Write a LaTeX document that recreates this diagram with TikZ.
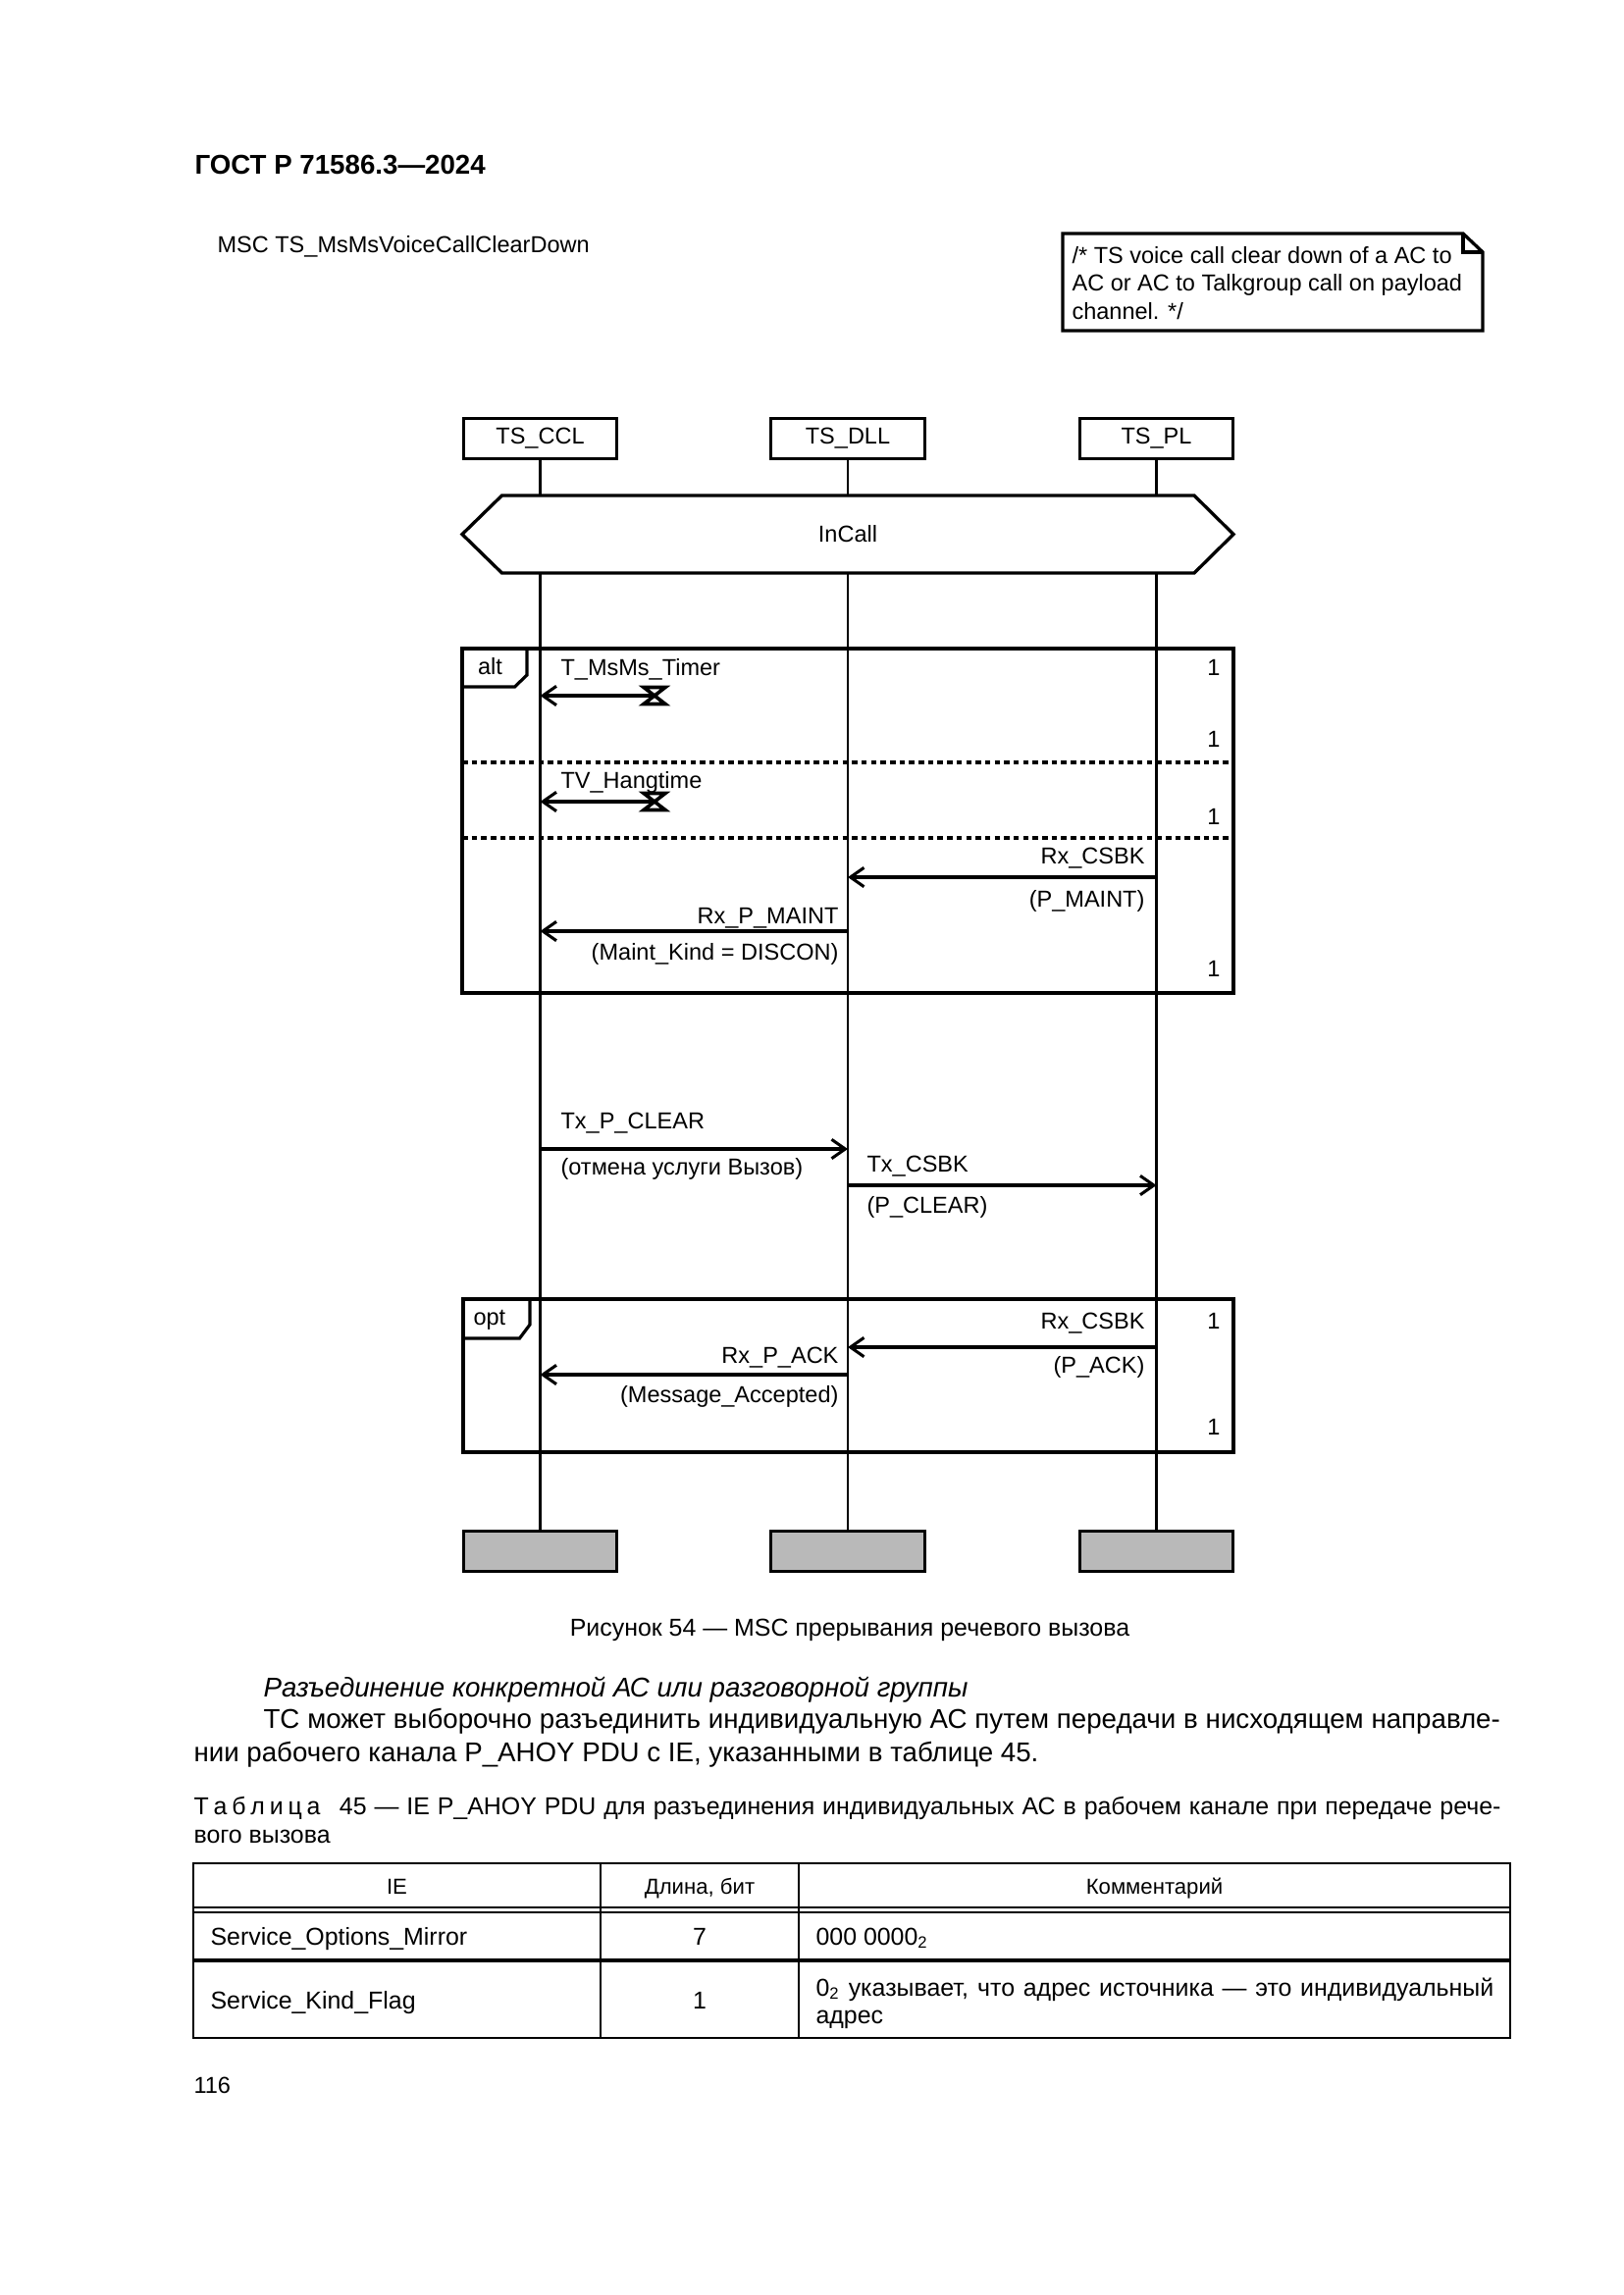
\documentclass[tikz,border=0pt]{standalone}
\usepackage{fontspec}
\setmainfont{Liberation Sans}
\usepackage{tikz}
\usetikzlibrary{arrows.meta}
\definecolor{endgray}{RGB}{185,185,185}
\tikzstyle{instance} = [rectangle, draw=black, line width=1.1pt, minimum width=19.9mm, minimum height=5.25mm, inner sep=0pt, font=\fontsize{8.5pt}{10pt}\selectfont]
\tikzstyle{instend} = [rectangle, draw=black, line width=1.1pt, fill=endgray, minimum width=19.9mm, minimum height=5.25mm, inner sep=0pt]
\tikzstyle{lifeline} = [line width=0.85pt]
\tikzstyle{frame} = [line width=1.15pt]
\tikzstyle{cond} = [line width=1.2pt, fill=white]
\tikzstyle{sep} = [line width=1.1pt, dash pattern=on 2pt off 1.5pt]
\tikzstyle{msg} = [line width=1.1pt, -{Straight Barb[length=5pt,width=7pt]}]
\tikzstyle{timer} = [line width=1.3pt, line join=miter]
\tikzstyle{note} = [line width=1.2pt, line join=miter]
\tikzstyle{lbl} = [inner sep=0pt, font=\fontsize{8.5pt}{10pt}\selectfont]
\tikzstyle{txt} = [inner sep=0pt, font=\fontsize{10pt}{12pt}\selectfont]
\tikzstyle{captxt} = [inner sep=0pt, font=\fontsize{9pt}{11pt}\selectfont]
\tikzstyle{cell} = [inner sep=0pt, font=\fontsize{9pt}{10pt}\selectfont]
\tikzstyle{headcell} = [inner sep=0pt, font=\fontsize{8pt}{10pt}\selectfont]

\begin{document}
\begin{tikzpicture}[x=0.12697mm, y=-0.12697mm]
	\path[fill=white, use as bounding box] (0,0) rectangle (1654,2339);

	% page head
	\node(gost) [txt, anchor=base west, font=\fontsize{10pt}{12pt}\selectfont\bfseries] at (198,178) {ГОСТ Р 71586.3—2024};
	\node(mscname) [lbl, anchor=base west] at (221,257) {MSC TS\_MsMsVoiceCallClearDown};

	% comment
	\draw[note] (1083,238) -- (1491,238) -- (1511,257) -- (1511,337) -- (1083,337) -- cycle;
	\draw[note] (1491,238) -- (1491,257) -- (1511,257);
	\node(note1) [lbl, anchor=base west] at (1092,268) {/* TS voice call clear down of a AC to};
	\node(note2) [lbl, anchor=base west] at (1092,296.5) {AC or AC to Talkgroup call on payload};
	\node(note3) [lbl, anchor=base west] at (1092,325) {channel. */};

	% instances
	\node(ccl) [instance] at (550.5,447) {TS\_CCL};
	\node(dll) [instance] at (864,447) {TS\_DLL};
	\node(pl) [instance] at (1178.5,447) {TS\_PL};
	\node(cclend) [instend] at (550.5,1581) {};
	\node(dllend) [instend] at (864,1581) {};
	\node(plend) [instend] at (1178.5,1581) {};

	\draw[lifeline] (ccl) -- (cclend);
	\draw[lifeline] (dll) -- (dllend);
	\draw[lifeline] (pl) -- (plend);

	% condition
	\draw[cond] (471,544.5) -- (511.5,505) -- (1217,505) -- (1257,544.5) -- (1217,584) -- (511.5,584) -- cycle;
	\node(incall) [lbl] at (864,544.5) {InCall};

	% alt
	\draw[frame] (471,661) rectangle (1257,1012);
	\draw[frame] (471,700) -- (524.5,700) -- (537,688) -- (537,661);
	\node(alt) [lbl, anchor=base west] at (486.5,687) {alt};
	\draw[sep] (471,777) -- (1257,777);
	\draw[sep] (471,854) -- (1257,854);
	\node(one1) [lbl, anchor=base] at (1237,688) {1};
	\node(one2) [lbl, anchor=base] at (1237,761) {1};
	\node(one3) [lbl, anchor=base] at (1237,840) {1};
	\node(one4) [lbl, anchor=base] at (1237,995) {1};

	\coordinate (tm1) at (667,709);
	\coordinate (tm2) at (667,817);
	\coordinate (t1) at (ccl |- tm1);
	\coordinate (t2) at (ccl |- tm2);
	\draw[timer] (tm1) ++(-11,-8.5) -- ++(22,0) -- ++(-22,17) -- ++(22,0) -- cycle;
	\draw[timer] (tm2) ++(-11,-8.5) -- ++(22,0) -- ++(-22,17) -- ++(22,0) -- cycle;
	\draw[msg] (tm1) -- (t1);
	\draw[msg] (tm2) -- (t2);
	\node(timer1) [lbl, anchor=base west] at (571,688) {T\_MsMs\_Timer};
	\node(timer2) [lbl, anchor=base west] at (571,803) {TV\_Hangtime};

	\draw[msg] (pl |- 0,894) -- (dll |- 0,894);
	\node(rxcsbk1) [lbl, anchor=base east] at (1167,880) {Rx\_CSBK};
	\node(pmaint) [lbl, anchor=base east] at (1167,924) {(P\_MAINT)};
	\draw[msg] (dll |- 0,949) -- (ccl |- 0,949);
	\node(rxpmaint) [lbl, anchor=base east] at (855,941) {Rx\_P\_MAINT};
	\node(discon) [lbl, anchor=base east] at (855,978) {(Maint\_Kind = DISCON)};

	% clear
	\draw[msg] (ccl |- 0,1171) -- (dll |- 0,1171);
	\node(txpclear) [lbl, anchor=base west] at (571,1150) {Tx\_P\_CLEAR};
	\node(otmena) [lbl, anchor=base west] at (571,1197) {(отмена услуги Вызов)};
	\draw[msg] (dll |- 0,1208) -- (pl |- 0,1208);
	\node(txcsbk) [lbl, anchor=base west] at (883,1194) {Tx\_CSBK};
	\node(pclear) [lbl, anchor=base west] at (883,1236) {(P\_CLEAR)};

	% opt
	\draw[frame] (472,1324) rectangle (1257,1480);
	\draw[frame] (472,1364) -- (529.5,1364) -- (540,1350) -- (540,1324);
	\node(opt) [lbl, anchor=base west] at (482,1350) {opt};
	\node(one5) [lbl, anchor=base] at (1237,1354) {1};
	\node(one6) [lbl, anchor=base] at (1237,1462) {1};
	\draw[msg] (pl |- 0,1373) -- (dll |- 0,1373);
	\node(rxcsbk2) [lbl, anchor=base east] at (1167,1354) {Rx\_CSBK};
	\node(pack) [lbl, anchor=base east] at (1167,1399) {(P\_ACK)};
	\draw[msg] (dll |- 0,1401) -- (ccl |- 0,1401);
	\node(rxpack) [lbl, anchor=base east] at (855,1389) {Rx\_P\_ACK};
	\node(accepted) [lbl, anchor=base east] at (855,1429) {(Message\_Accepted)};

	% text below
	\node(figcap) [captxt, anchor=base] at (866,1667) {Рисунок 54 — MSC прерывания речевого вызова};
	\node(subhead) [txt, anchor=base west, font=\fontsize{10pt}{12pt}\selectfont\itshape] at (268,1729) {Разъединение конкретной АС или разговорной группы};
	\node(para1) [txt, anchor=base west] at (268,1761) {\makebox[455.3pt][s]{ТС может выборочно разъединить индивидуальную АС путем передачи в нисходящем направле-}};
	\node(para2) [txt, anchor=base west] at (197,1795) {нии рабочего канала P\_AHOY PDU с IE, указанными в таблице 45.};
	\node(tabcap1) [captxt, anchor=base west] at (197,1849) {\makebox[481.2pt][s]{Т\hspace{1.75pt}а\hspace{1.75pt}б\hspace{1.75pt}л\hspace{1.75pt}и\hspace{1.75pt}ц\hspace{1.75pt}а\hspace{7pt}45 — IE P\_AHOY PDU для разъединения индивидуальных АС в рабочем канале при передаче рече-}};
	\node(tabcap2) [captxt, anchor=base west] at (197,1878) {вого вызова};

	% table
	\draw[line width=1pt] (197,1899) rectangle (1539,2077);
	\draw[line width=0.8pt] (612,1899) -- (612,2077);
	\draw[line width=0.8pt] (814,1899) -- (814,2077);
	\draw[line width=0.5pt] (197,1944) -- (1539,1944);
	\draw[line width=0.5pt] (197,1949) -- (1539,1949);
	\draw[line width=1.2pt] (197,1998) -- (1539,1998);
	\node(hie) [headcell, anchor=base] at (404.5,1930) {IE};
	\node(hlen) [headcell, anchor=base] at (713,1930) {Длина, бит};
	\node(hcom) [headcell, anchor=base] at (1176.5,1930) {Комментарий};
	\node(ie1) [cell, anchor=base west] at (214,1982) {Service\_Options\_Mirror};
	\node(len1) [cell, anchor=base] at (713,1982) {7};
	\node(com1) [cell, anchor=base west] at (831,1982) {000 0000\textsubscript{2}};
	\node(ie2) [cell, anchor=base west] at (214,2047) {Service\_Kind\_Flag};
	\node(len2) [cell, anchor=base] at (713,2047) {1};
	\node(com2a) [cell, anchor=base west] at (831,2034) {\makebox[249.5pt][s]{0\textsubscript{2} указывает, что адрес источника — это индивидуальный}};
	\node(com2b) [cell, anchor=base west] at (831,2062) {адрес};

	\node(pageno) [txt, anchor=base west, font=\fontsize{8.5pt}{10pt}\selectfont] at (197,2133) {116};
\end{tikzpicture}
\end{document}
